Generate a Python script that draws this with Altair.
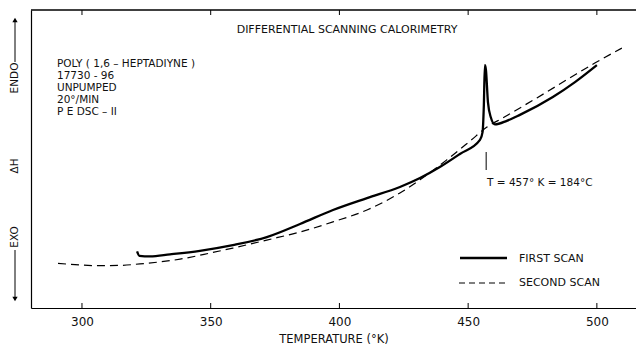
import altair as alt
import pandas as pd

# ---- data ----
first_T = [321.4, 322.3, 326.4, 334.2, 345.8, 358.6, 371.8, 384.7, 397.5, 410.7,
           423.5, 431.3, 439.0, 446.8, 454.6, 455.6, 456.1, 456.5, 456.9, 457.7,
           458.8, 460.4, 465.0, 470.1, 482.9, 491.5, 500.0]
first_v = [19.0, 17.5, 17.3, 18.0, 19.2, 21.1, 23.8, 28.2, 32.9, 36.9,
           40.6, 43.6, 47.3, 51.7, 56.4, 59.0, 68.0, 81.5, 80.0, 69.0,
           64.0, 61.6, 62.8, 64.8, 70.8, 75.8, 81.5]

second_T = [290.7, 300.0, 307.0, 315.0, 322.5, 338.1, 350.1, 358.6, 371.8, 384.7,
            397.5, 410.7, 423.5, 431.3, 441.7, 450.7, 457.3, 463.5, 476.7, 489.5,
            499.2, 509.7]
second_v = [15.0, 14.4, 14.2, 14.3, 14.8, 16.4, 18.5, 20.1, 22.8, 25.5,
            28.9, 32.9, 38.6, 43.0, 49.7, 56.0, 60.7, 63.8, 70.5, 77.2,
            82.2, 87.2]

x_ticks = [300, 350, 400, 450, 500]
info_lines = ["POLY ( 1,6 \u2013 HEPTADIYNE )", "17730 - 96", "UNPUMPED",
              "20\u00b0/MIN", "P E  DSC \u2013 II"]
title_text = "DIFFERENTIAL  SCANNING  CALORIMETRY"
x_title = "TEMPERATURE  (\u00b0K)"
transition_T = [457]
transition_label = "T = 457\u00b0 K = 184\u00b0C"
legend_labels = ["FIRST  SCAN", "SECOND  SCAN"]

FONT = "DejaVu Sans"
W, H = 605, 298

xs = alt.Scale(domain=[280.2, 515.2], nice=False, zero=False)
ys = alt.Scale(domain=[0, 100], nice=False, zero=False)

df1 = pd.DataFrame({"T": first_T, "v": first_v, "i": list(range(len(first_T)))})
df2 = pd.DataFrame({"T": second_T, "v": second_v, "i": list(range(len(second_T)))})
one = pd.DataFrame({"a": [0]})

first = alt.Chart(df1).mark_line(color="black", strokeWidth=2.3,
                                 interpolate="monotone").encode(
    x=alt.X("T:Q", scale=xs,
            axis=alt.Axis(values=x_ticks, title=x_title, ticks=False, tickSize=0,
                          labelPadding=8, titlePadding=6, grid=False)),
    y=alt.Y("v:Q", scale=ys,
            axis=alt.Axis(labels=False, ticks=False, tickSize=0, title=None, grid=False)),
    order="i:Q",
)

second = alt.Chart(df2).mark_line(color="black", strokeWidth=1.2, strokeDash=[8, 5],
                                  interpolate="monotone").encode(
    x=alt.X("T:Q", scale=xs), y=alt.Y("v:Q", scale=ys), order="i:Q"
)

ticks_df = pd.DataFrame({"T": x_ticks})
bottom_ticks = alt.Chart(ticks_df).mark_rule(color="black", strokeWidth=1).encode(
    x=alt.X("T:Q", scale=xs), y=alt.value(H), y2=alt.value(H - 5))
top_ticks = alt.Chart(ticks_df).mark_rule(color="black", strokeWidth=1).encode(
    x=alt.X("T:Q", scale=xs), y=alt.value(0), y2=alt.value(5))
top_border = alt.Chart(one).mark_rule(color="black", strokeWidth=1.5).encode(
    x=alt.value(0), x2=alt.value(W), y=alt.value(0))

title = alt.Chart(one).mark_text(font=FONT, fontSize=11, color="#111", align="center",
                                 baseline="middle").encode(
    x=alt.value(316), y=alt.value(20), text=alt.value(title_text))

info_layers = []
for k, line in enumerate(info_lines):
    info_layers.append(
        alt.Chart(one).mark_text(font=FONT, fontSize=10.5, color="#111", align="left",
                                 baseline="middle").encode(
            x=alt.value(26), y=alt.value(54 + k * 12), text=alt.value(line)))

tdf = pd.DataFrame({"T": transition_T})
t_rule = alt.Chart(tdf).mark_rule(color="black", strokeWidth=1).encode(
    x=alt.X("T:Q", scale=xs), y=alt.value(142), y2=alt.value(160))
t_text = alt.Chart(one).mark_text(font=FONT, fontSize=10.5, color="#111", align="left",
                                  baseline="middle").encode(
    x=alt.value(456), y=alt.value(173), text=alt.value(transition_label))

leg1 = alt.Chart(one).mark_rule(color="black", strokeWidth=2.3).encode(
    x=alt.value(429), x2=alt.value(476), y=alt.value(248))
leg2 = alt.Chart(one).mark_rule(color="black", strokeWidth=1.2, strokeDash=[6, 4]).encode(
    x=alt.value(428), x2=alt.value(476), y=alt.value(273))
leg1t = alt.Chart(one).mark_text(font=FONT, fontSize=11, color="#111", align="left",
                                 baseline="middle").encode(
    x=alt.value(488), y=alt.value(249), text=alt.value(legend_labels[0]))
leg2t = alt.Chart(one).mark_text(font=FONT, fontSize=11, color="#111", align="left",
                                 baseline="middle").encode(
    x=alt.value(488), y=alt.value(273), text=alt.value(legend_labels[1]))

# y-side labels and arrows
side = []
for txt, yy in [("ENDO", 68), ("\u0394H", 156), ("EXO", 227)]:
    side.append(alt.Chart(one).mark_text(font=FONT, fontSize=10.5, color="#111", angle=270,
                                         align="center", baseline="middle").encode(
        x=alt.value(-16), y=alt.value(yy), text=alt.value(txt)))
up_line = alt.Chart(one).mark_rule(color="black", strokeWidth=1).encode(
    x=alt.value(-16), y=alt.value(11), y2=alt.value(52))
down_line = alt.Chart(one).mark_rule(color="black", strokeWidth=1).encode(
    x=alt.value(-16), y=alt.value(240), y2=alt.value(287))
up_head = alt.Chart(one).mark_point(shape="triangle-up", filled=True, size=28,
                                    color="black", opacity=1).encode(
    x=alt.value(-16), y=alt.value(10))
down_head = alt.Chart(one).mark_point(shape="triangle-down", filled=True, size=28,
                                      color="black", opacity=1).encode(
    x=alt.value(-16), y=alt.value(289))

chart = alt.layer(
    first, second, bottom_ticks, top_ticks, top_border, title, *info_layers,
    t_rule, t_text, leg1, leg2, leg1t, leg2t, *side, up_line, down_line, up_head, down_head,
).properties(
    width=W, height=H,
    autosize=alt.AutoSizeParams(type="none"),
    padding={"left": 23, "top": 2, "right": 0, "bottom": 36},
    background="white",
).configure_view(stroke=None).configure_axis(
    domainColor="black", domainWidth=1.2, labelColor="#111", labelFont=FONT,
    labelFontSize=12, titleFont=FONT, titleFontSize=11.5, titleFontWeight="normal",
    titleColor="#111",
)

chart.save("out.html", embed_options={"renderer": "svg", "actions": False})
